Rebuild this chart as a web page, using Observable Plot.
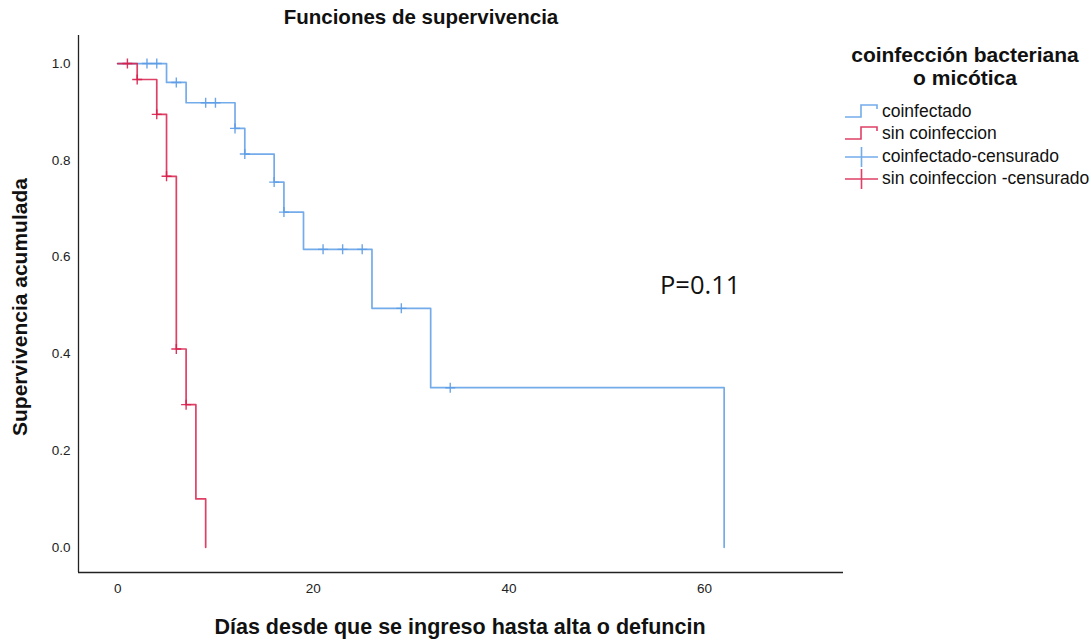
<!DOCTYPE html>
<html>
<head>
<meta charset="utf-8">
<script src="https://cdn.jsdelivr.net/npm/d3@7"></script>
<script src="https://cdn.jsdelivr.net/npm/@observablehq/plot@0.6"></script>
<style>
  html, body { margin: 0; padding: 0; background: #fff; }
  #wrap { position: relative; width: 1091px; height: 642px; overflow: hidden; font-family: "Liberation Sans", Arial, sans-serif; color: #111; }
  #wrap > svg { position: absolute; left: 0; top: 0; }
  .abs { position: absolute; white-space: nowrap; }
  #title { left: 121px; width: 600px; top: 5px; text-align: center; font-weight: bold; font-size: 20.5px; }
  #xlab { left: 160px; width: 600px; top: 615px; text-align: center; font-weight: bold; font-size: 21.5px; }
  #ylab { left: 20px; top: 307px; font-weight: bold; font-size: 21px; transform: translate(-50%, -50%) rotate(-90deg); }
  #legtitle { left: 840px; width: 250px; top: 43px; text-align: center; font-weight: bold; font-size: 21px; line-height: 23px; }
  .legrow { position: absolute; left: 843px; height: 22px; font-size: 17.5px; line-height: 22px; }
  .legrow svg { position: absolute; left: 0; top: 1px; }
  .legrow span { position: absolute; left: 39px; top: 0; white-space: nowrap; }
  #pval { left: 660px; top: 267px; font-size: 25.5px; font-family: "Open Sans", "Liberation Sans", sans-serif; }
</style>
</head>
<body>
<div id="wrap"></div>
<script>
// ---- data ----
const groups = ["coinfectado", "sin coinfeccion"];
const blueTimes = [0, 5, 7, 12, 13, 16, 17, 19, 26, 32, 62];
const blueSurv  = [1, 0.961, 0.919, 0.866, 0.813, 0.755, 0.693, 0.616, 0.494, 0.330, 0];
const blueCensorTimes = [3, 4, 6, 9, 10, 12, 13, 16, 17, 21, 23, 25, 29, 34];
const redTimes = [0, 2, 4, 5, 6, 7, 8, 9];
const redSurv  = [1, 0.967, 0.895, 0.767, 0.410, 0.295, 0.100, 0];
const redCensorTimes = [1, 2, 4, 5, 6, 7];
const xTicks = [0, 20, 40, 60];
const yTicks = [0, 0.2, 0.4, 0.6, 0.8, 1.0];
const colors = ["#5c9ce6", "#d81e4b"];
const pText = "P=0.11";

// ---- build tables ----
function stepLevel(times, surv, t) {
  let s = surv[0];
  for (let i = 0; i < times.length; i++) if (times[i] <= t) s = surv[i];
  return s;
}
const curves = [
  ...blueTimes.map((t, i) => ({group: groups[0], t, s: blueSurv[i]})),
  ...redTimes.map((t, i) => ({group: groups[1], t, s: redSurv[i]}))
];
const censors = [
  ...blueCensorTimes.map(t => ({group: groups[0], t, s: stepLevel(blueTimes, blueSurv, t)})),
  ...redCensorTimes.map(t => ({group: groups[1], t, s: stepLevel(redTimes, redSurv, t)}))
];

const plusSymbol = {
  draw(context, size) {
    const r = Math.sqrt(size / Math.PI);
    context.moveTo(-r, 0); context.lineTo(r, 0);
    context.moveTo(0, -r); context.lineTo(0, r);
  }
};

const xDomain = [-4, 74.2];
const yDomain = [-0.052, 1.058];

const chart = Plot.plot({
  width: 1091,
  height: 642,
  marginLeft: 78,
  marginRight: 248,
  marginTop: 35,
  marginBottom: 70,
  style: {fontFamily: '"Liberation Sans Narrow", "Arial Narrow", "Liberation Sans", sans-serif', fontSize: "13.5px", color: "#222", background: "transparent"},
  x: {domain: xDomain, ticks: xTicks, tickSize: 0, tickPadding: 11, label: null},
  y: {domain: yDomain, ticks: yTicks, tickSize: 0, tickPadding: 8, tickFormat: d3.format(".1f"), label: null},
  color: {domain: groups, range: colors},
  marks: [
    Plot.ruleX([xDomain[0]], {stroke: "#222", strokeWidth: 1.3}),
    Plot.ruleY([yDomain[0]], {stroke: "#222", strokeWidth: 1.3}),
    Plot.line(curves, {x: "t", y: "s", z: "group", stroke: "group", curve: "step-after", strokeWidth: 1.7, strokeOpacity: 0.85}),
    Plot.dot(censors, {x: "t", y: "s", stroke: "group", symbol: () => plusSymbol, r: 5, strokeWidth: 1.4, fill: "none", strokeOpacity: 0.9})
  ]
});
const wrap = document.getElementById("wrap");
wrap.appendChild(chart);

function addDiv(id, text) {
  const d = document.createElement("div");
  d.id = id; d.className = "abs"; d.textContent = text;
  wrap.appendChild(d); return d;
}
addDiv("title", "Funciones de supervivencia");
addDiv("xlab", "Días desde que se ingreso hasta alta o defuncin");
addDiv("ylab", "Supervivencia acumulada");
addDiv("pval", pText);
const lt = addDiv("legtitle", "");
lt.innerHTML = "coinfección bacteriana<br>o micótica";

const legendItems = [
  {label: "coinfectado", color: colors[0], kind: "step"},
  {label: "sin coinfeccion", color: colors[1], kind: "step"},
  {label: "coinfectado-censurado", color: colors[0], kind: "cross"},
  {label: "sin coinfeccion -censurado", color: colors[1], kind: "cross"}
];
legendItems.forEach((it, i) => {
  const row = document.createElement("div");
  row.className = "legrow";
  row.style.top = (100 + i * 22.3) + "px";
  const path = it.kind === "step"
    ? '<path d="M2,16 H18 V4 H34 V8" fill="none" stroke="' + it.color + '" stroke-width="1.6" opacity="0.85"/>'
    : '<path d="M2,11 H35 M18.5,1 V21" fill="none" stroke="' + it.color + '" stroke-width="1.6" opacity="0.85"/>';
  row.innerHTML = '<svg width="38" height="22">' + path + '</svg><span>' + it.label + '</span>';
  wrap.appendChild(row);
});
</script>
</body>
</html>
